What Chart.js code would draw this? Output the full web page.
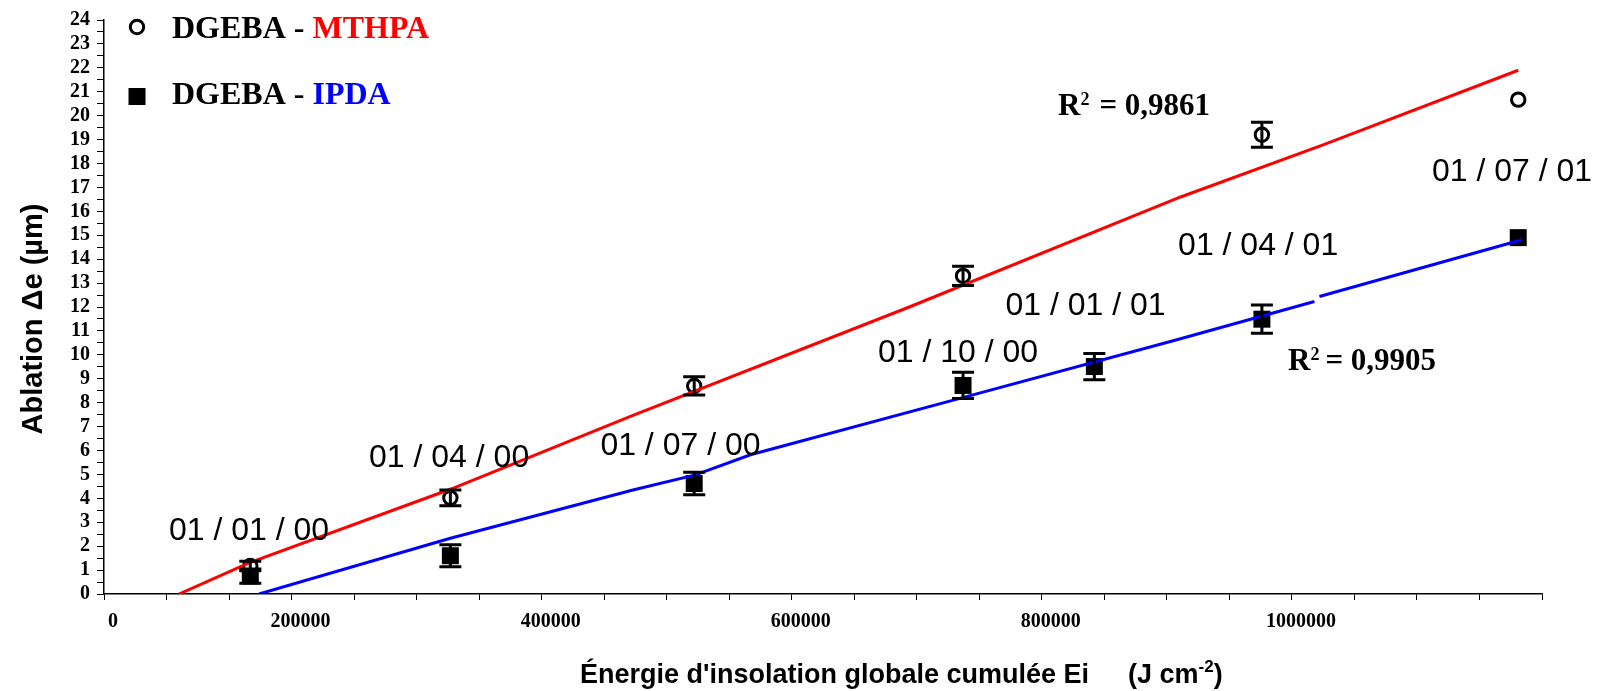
<!DOCTYPE html>
<html>
<head>
<meta charset="utf-8">
<script src="https://cdn.jsdelivr.net/npm/chart.js@4.4.1/dist/chart.umd.min.js"></script>
<style>
  html, body { margin: 0; padding: 0; background: #fff; }
</style>
</head>
<body>
<canvas id="ablationChart" width="1610" height="691"></canvas>
<script>
// measurement dates and cumulated energy (J cm-2)
const dates = ['01 / 01 / 00', '01 / 04 / 00', '01 / 07 / 00', '01 / 10 / 00', '01 / 01 / 01', '01 / 04 / 01', '01 / 07 / 01']
const energy = [167000, 327000, 522000, 737000, 842000, 976000, 1181000]

// DGEBA - MTHPA (no measurement on 01/01/01)
const mthpa = [1.17, 4.02, 8.70, 13.3, null, 19.2, 20.67]
const mthpaErr = [0.2, 0.33, 0.38, 0.4, null, 0.52, 0]

// DGEBA - IPDA
const ipda = [0.75, 1.6, 4.62, 8.72, 9.51, 11.49, 14.9]
const ipdaErr = [0.3, 0.46, 0.47, 0.55, 0.55, 0.59, 0]

// regression lines as drawn
const mthpaFitX = [110000, 166000, 328000, 472000, 694000, 911000, 1026000, 1181000]
const mthpaFitY = [0, 1.3, 4.4, 7.45, 12.0, 16.6, 18.8, 21.9]
const ipdaFitX = [174000, 327000, 473000, 523000, 567000, 736000, 908000, 1018000, 1020000, 1022000, 1184000]
const ipdaFitY = [0, 2.33, 4.35, 4.98, 5.82, 8.2, 10.63, 12.23, null, 12.44, 14.81]

// where the date annotations sit (data units)
const dateLabelX = [166000, 326000, 511000, 733000, 835000, 973000, 1176000]
const dateLabelY = [2.64, 5.69, 6.19, 10.06, 12.02, 14.56, 17.62]

const r2Mthpa = '0,9861'
const r2Ipda = '0,9905'

// axis ticks
const xMin = 50000, xMax = 1200000
const xLabelAt = [50000, 200000, 400000, 600000, 800000, 1000000]
const xLabelText = ['0', '200000', '400000', '600000', '800000', '1000000']

const SERIF = '"Liberation Serif", "Times New Roman", serif'
const SANS = '"Liberation Sans", Arial, sans-serif'

const toPoints = (xs, ys) => xs.map((x, i) => ({ x, y: ys[i] }))

const errorBars = {
  id: 'errorBars',
  afterDatasetsDraw(chart) {
    const ctx = chart.ctx
    const y = chart.scales.y
    ;[[2, mthpa, mthpaErr], [3, ipda, ipdaErr]].forEach(([idx, vals, errs]) => {
      const meta = chart.getDatasetMeta(idx)
      let k = 0
      vals.forEach((v, i) => {
        if (v === null) return
        const pt = meta.data[k++]
        const e = errs[i]
        if (!e) return
        const top = y.getPixelForValue(v + e)
        const bot = y.getPixelForValue(v - e)
        ctx.save()
        ctx.strokeStyle = '#000'
        ctx.lineWidth = 3
        ctx.beginPath()
        ctx.moveTo(pt.x, top); ctx.lineTo(pt.x, bot)
        ctx.moveTo(pt.x - 11, top); ctx.lineTo(pt.x + 11, top)
        ctx.moveTo(pt.x - 11, bot); ctx.lineTo(pt.x + 11, bot)
        ctx.stroke()
        ctx.restore()
      })
    })
  }
}

const annotations = {
  id: 'annotations',
  afterDraw(chart) {
    const ctx = chart.ctx
    const xs = chart.scales.x, ys = chart.scales.y
    ctx.save()
    ctx.fillStyle = '#000'

    // date labels
    ctx.font = '32px ' + SANS
    ctx.textAlign = 'center'
    ctx.textBaseline = 'middle'
    dates.forEach((d, i) => {
      ctx.fillText(d, xs.getPixelForValue(dateLabelX[i]), ys.getPixelForValue(dateLabelY[i]))
    })

    // R2 values
    const drawR2 = (x, base, val, gap) => {
      ctx.textAlign = 'left'
      ctx.textBaseline = 'alphabetic'
      ctx.font = 'bold 31px ' + SERIF
      ctx.fillText('R', x, base)
      let cx = x + ctx.measureText('R').width
      ctx.font = 'bold 18px ' + SERIF
      ctx.fillText('2', cx, base - 10)
      cx += ctx.measureText('2').width + gap
      ctx.font = 'bold 31px ' + SERIF
      ctx.fillText('= ' + val, cx, base)
    }
    drawR2(1058, 115, r2Mthpa, 10)
    drawR2(1288, 370, r2Ipda, 6)

    // legend
    ctx.lineWidth = 3
    ctx.strokeStyle = '#000'
    ctx.fillStyle = '#fff'
    ctx.beginPath()
    ctx.arc(137, 27, 6.7, 0, Math.PI * 2)
    ctx.fill(); ctx.stroke()
    ctx.fillStyle = '#000'
    ctx.fillRect(128.5, 88, 17, 17)
    const legendLine = (y, name, color) => {
      ctx.font = 'bold 32px ' + SERIF
      ctx.textAlign = 'left'
      ctx.fillStyle = '#000'
      ctx.fillText('DGEBA - ', 172, y)
      const w = ctx.measureText('DGEBA - ').width
      ctx.fillStyle = color
      ctx.fillText(name, 172 + w, y)
    }
    legendLine(38, 'MTHPA', '#ff0000')
    legendLine(104, 'IPDA', '#0000ff')

    // axis titles
    ctx.fillStyle = '#000'
    ctx.font = 'bold 27px ' + SANS
    ctx.textAlign = 'left'
    ctx.fillText("Énergie d'insolation globale cumulée Ei", 580, 683)
    ctx.fillText('(J cm', 1128, 683)
    let sx = 1128 + ctx.measureText('(J cm').width
    ctx.font = 'bold 17px ' + SANS
    ctx.fillText('-2', sx, 672)
    sx += ctx.measureText('-2').width
    ctx.font = 'bold 27px ' + SANS
    ctx.fillText(')', sx, 683)

    ctx.translate(34, 319)
    ctx.rotate(-Math.PI / 2)
    ctx.textAlign = 'center'
    ctx.textBaseline = 'middle'
    ctx.font = 'bold 29px ' + SANS
    ctx.fillText('Ablation \u0394e (\u00b5m)', 0, 0)
    ctx.restore()
  }
}

new Chart(document.getElementById('ablationChart'), {
  type: 'scatter',
  data: {
    datasets: [
      {
        label: 'fit MTHPA',
        data: toPoints(mthpaFitX, mthpaFitY),
        showLine: true,
        borderColor: '#ff0000',
        borderWidth: 3,
        pointRadius: 0,
        tension: 0,
        order: 0,
      },
      {
        label: 'fit IPDA',
        data: toPoints(ipdaFitX, ipdaFitY),
        showLine: true,
        spanGaps: false,
        borderColor: '#0000ff',
        borderWidth: 3,
        pointRadius: 0,
        tension: 0,
        order: 0,
      },
      {
        label: 'DGEBA - MTHPA',
        data: toPoints(energy, mthpa).filter(p => p.y !== null),
        pointStyle: 'circle',
        pointRadius: 6.7,
        pointBackgroundColor: '#fff',
        pointBorderColor: '#000',
        pointBorderWidth: 3,
        order: 1,
      },
      {
        label: 'DGEBA - IPDA',
        data: toPoints(energy, ipda),
        pointStyle: 'rect',
        pointRadius: 12,
        pointBackgroundColor: '#000',
        pointBorderColor: '#000',
        pointBorderWidth: 0,
        order: 1,
      },
    ]
  },
  options: {
    responsive: false,
    animation: false,
    devicePixelRatio: 1,
    layout: { padding: { top: 20, right: 68, left: 0, bottom: 0 } },
    plugins: { legend: { display: false }, tooltip: { enabled: false } },
    scales: {
      x: {
        type: 'linear',
        min: xMin,
        max: xMax,
        afterFit: s => { s.height = 97 },
        ticks: {
          stepSize: 50000,
          autoSkip: false,
          maxRotation: 0,
          labelOffset: 9,
          padding: 10,
          color: '#000',
          font: { family: SERIF, size: 20, weight: 'bold' },
          callback: v => {
            const i = xLabelAt.indexOf(v)
            return i >= 0 ? xLabelText[i] : ''
          }
        },
        grid: { drawOnChartArea: false, tickLength: 6, color: '#000', lineWidth: 1 },
        border: { color: '#000', width: 1.5 },
      },
      y: {
        min: 0,
        max: 24,
        afterFit: s => { s.width = 104 },
        ticks: {
          stepSize: 0.5,
          autoSkip: false,
          padding: 7,
          color: '#000',
          font: { family: SERIF, size: 20, weight: 'bold' },
          callback: v => Number.isInteger(v) ? String(v) : ''
        },
        grid: { drawOnChartArea: false, tickLength: 7, color: '#000', lineWidth: 1 },
        border: { color: '#000', width: 1.5 },
      }
    }
  },
  plugins: [errorBars, annotations]
})
</script>
</body>
</html>
